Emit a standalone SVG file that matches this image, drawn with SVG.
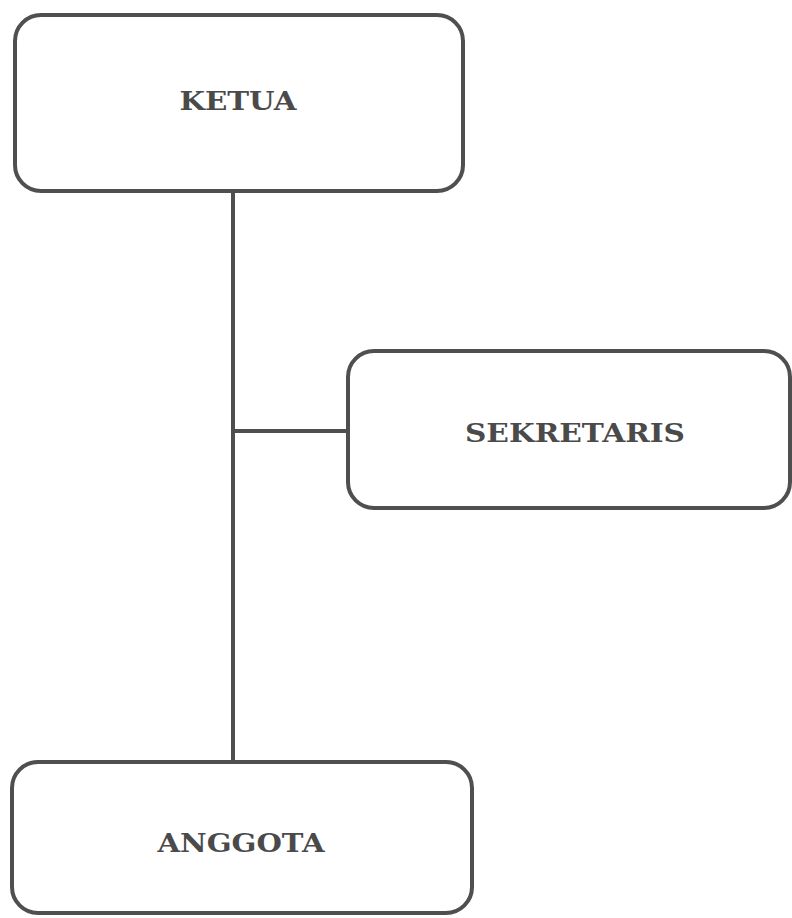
<svg xmlns="http://www.w3.org/2000/svg" width="792" height="918" viewBox="0 0 792 918">
<style>
.box{fill:#ffffff;stroke:#4f4f4f;stroke-width:4}
.lbl{font-family:"DejaVu Serif","Liberation Serif",serif;font-weight:bold;font-size:26px;fill:#4a4a4a;text-anchor:middle}
.conn{stroke:#4f4f4f;stroke-width:4;fill:none}
</style>
<rect width="792" height="918" fill="#ffffff"/>
<g id="connectors">
<line class="conn" x1="233" y1="191" x2="233" y2="762"/>
<line class="conn" x1="233" y1="431" x2="348" y2="431"/>
</g>
<g id="ketua">
<rect class="box" x="15" y="15" width="448" height="176" rx="26" ry="26"/>
<text class="lbl" x="238" y="110" textLength="117" lengthAdjust="spacingAndGlyphs">KETUA</text>
</g>
<g id="sekretaris">
<rect class="box" x="348" y="351" width="442" height="157" rx="26" ry="26"/>
<text class="lbl" x="575" y="442" textLength="220" lengthAdjust="spacingAndGlyphs">SEKRETARIS</text>
</g>
<g id="anggota">
<rect class="box" x="12" y="762" width="460" height="151" rx="26" ry="26"/>
<text class="lbl" x="241" y="852" textLength="167" lengthAdjust="spacingAndGlyphs">ANGGOTA</text>
</g>
</svg>
